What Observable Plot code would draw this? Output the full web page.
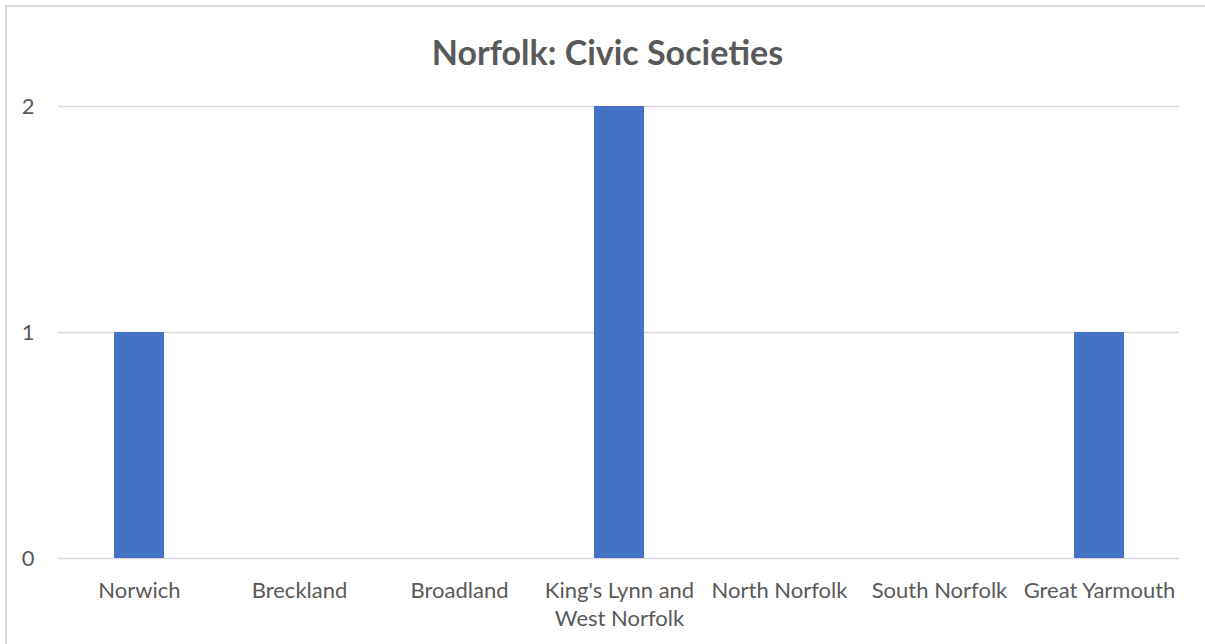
<!DOCTYPE html>
<html>
<head>
<meta charset="utf-8">
<script src="https://cdn.jsdelivr.net/npm/d3@7"></script>
<script src="https://cdn.jsdelivr.net/npm/@observablehq/plot@0.6"></script>
<style>
  html, body { margin: 0; padding: 0; background: #fff; }
  #wrap { position: relative; width: 1205px; height: 644px; overflow: hidden; font-family: Lato, "Open Sans", sans-serif; }
  #frame { position: absolute; left: 5px; top: 5px; width: 1300px; height: 800px; border: 2px solid #d9d9d9; box-sizing: border-box; }
  #title { position: absolute; left: 0; top: 31px; width: 1215px; text-align: center; font-size: 34px; line-height: 42px; font-weight: bold; color: #595959; }
  #chart { position: absolute; left: 0; top: 0; }
</style>
</head>
<body>
<div id="wrap">
  <div id="frame"></div>
  <div id="chart"></div>
  <div id="title">Norfolk: Civic Societies</div>
</div>
<script>
const categories = ["Norwich", "Breckland", "Broadland", "King's Lynn and West Norfolk", "North Norfolk", "South Norfolk", "Great Yarmouth"];
const values = [1, 0, 0, 2, 0, 0, 1];
const yTicks = [0, 1, 2];
const tickLabels = {"King's Lynn and West Norfolk": "King's Lynn and\nWest Norfolk"};

const data = categories.map((c, i) => ({category: c, value: values[i]}));

const chart = Plot.plot({
  width: 1205,
  height: 644,
  marginLeft: 58,
  marginRight: 26,
  marginTop: 106,
  marginBottom: 86,
  style: {fontFamily: "Lato, 'Open Sans', sans-serif", fontSize: "22px", color: "#595959", background: "transparent"},
  x: {domain: categories, paddingInner: 0.6875, paddingOuter: 0.34375, label: null},
  y: {domain: [0, 2], label: null},
  marks: [
    Plot.ruleY(yTicks, {stroke: "#d9d9d9", strokeWidth: 1.5, strokeOpacity: 1}),
    Plot.barY(data, {x: "category", y: "value", fill: "#4472c4"}),
    Plot.axisY({ticks: yTicks, tickSize: 0, tickPadding: 24, tickFormat: d3.format("d"), fill: "#595959", fontSize: 22, label: null}),
    Plot.axisX({tickSize: 0, tickPadding: 19, tickFormat: d => tickLabels[d] || d, fill: "#595959", fontSize: 22, lineHeight: 1.3, label: null})
  ]
});
document.getElementById("chart").appendChild(chart);
</script>
</body>
</html>
